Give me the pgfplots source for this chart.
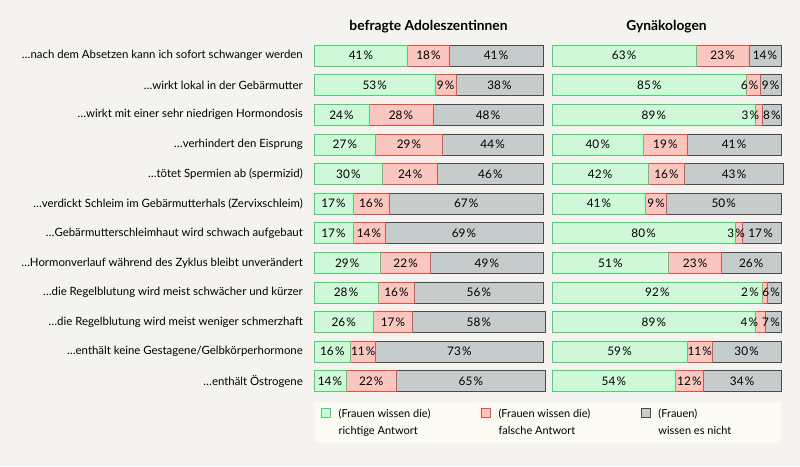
\documentclass[border=0pt]{standalone}
\usepackage{pgfplots}
\usepackage{pgfplotstable}
\pgfplotsset{compat=1.18}
\usepackage{fontspec}
\setmainfont{Lato}
\definecolor{bg}{HTML}{F4F3F0}
\definecolor{legbg}{HTML}{FCFBF3}
\definecolor{gfill}{HTML}{CFF8D9}
\definecolor{gdraw}{HTML}{45D472}
\definecolor{rfill}{HTML}{F9C6C0}
\definecolor{rdraw}{HTML}{EE4B3E}
\definecolor{kfill}{HTML}{C6CBCB}
\definecolor{kdraw}{HTML}{4A4A4A}

\pgfplotstableread{
row g r k rs ks
1 41 18 41 0 0
2 53 9 38 0 0
3 24 28 48 0 0
4 27 29 44 0 0
5 30 24 46 0 0
6 17 16 67 0 0
7 17 14 69 0 0
8 29 22 49 0 0
9 28 16 56 0 0
10 26 17 58 0 0
11 16 11 73 0 0
12 14 22 65 0 0
}\adol

\pgfplotstableread{
row g r k rs ks
1 63 23 14 0 0
2 85 6 9 -4 0
3 89 3 8 -9 0
4 40 19 41 0 0
5 42 16 43 0 0
6 41 9 50 0 0
7 80 3 17 -2.5 -1
8 51 23 26 0 0
9 92 2 6 -15 -3
10 89 4 7 -11 -2
11 59 11 30 0 0
12 54 12 34 0 0
}\gyn

\pgfplotsset{
  frame/.style={
    x=2.29pt, xmin=0, xmax=100,
    y=29.6pt, ymin=0.5, ymax=12.5, y dir=reverse,
    axis line style={draw=none}, xtick=\empty,
    tick style={draw=none},
    clip=false,
  },
  common/.style={frame,
    xbar stacked, bar width=21pt,
    title style={font=\bfseries\fontsize{13.8}{15}\selectfont, anchor=base, at={(0.5,1)}, yshift=4.5pt},
  },
  labelaxis/.style={frame, ytick=\empty},
  lbl/.style={draw=none, mark=none, forget plot,
    point meta={#1},
    nodes near coords={\pgfmathprintnumber[assume math mode=true]{\pgfplotspointmeta}\kern1.2pt\%},
    nodes near coords align={center},
    every node near coord/.style={anchor=center,
      font=\fontsize{11.8}{12}\selectfont, text=black, inner sep=0pt},
  },
}

\begin{document}
\begin{tikzpicture}
\path[use as bounding box, fill=bg] (0,0) rectangle (800pt,466pt);
\fill[legbg] (314pt,23pt) rectangle (781pt,64pt);

\begin{axis}[common,
  at={(428.5pt,247.6pt)}, anchor=center,
  title={befragte Adoleszentinnen},
  ytick={1,...,12},
  yticklabels={
    …nach dem Absetzen kann ich sofort schwanger werden,
    …wirkt lokal in der Gebärmutter,
    …wirkt mit einer sehr niedrigen Hormondosis,
    …verhindert den Eisprung,
    …tötet Spermien ab (spermizid),
    …verdickt Schleim im Gebärmutterhals (Zervixschleim),
    …Gebärmutterschleimhaut wird schwach aufgebaut,
    …Hormonverlauf während des Zyklus bleibt unverändert,
    …die Regelblutung wird meist schwächer und kürzer,
    …die Regelblutung wird meist weniger schmerzhaft,
    …enthält keine Gestagene/Gelbkörperhormone,
    …enthält Östrogene},
  yticklabel style={font=\fontsize{11.4}{12}\selectfont, inner sep=0pt, xshift=-11pt, anchor=east},
  legend columns=3,
  legend cell align=left,
  legend style={at={(0,0)}, anchor=north west, xshift=7pt, yshift=-11pt,
    draw=none, fill=none, inner sep=0pt, column sep=0pt, row sep=0pt,
    font=\fontsize{11}{17}\selectfont},
  legend image code/.code={\draw[#1, line width=0.8pt] (0pt,-3pt) rectangle (9pt,6pt); \path[draw=none] (0pt,0pt) -- (15pt,0pt);},
]
\addplot[fill=gfill, draw=gdraw, line width=0.8pt] table[x=g, y=row] {\adol};
\addplot[fill=rfill, draw=rdraw, line width=0.8pt] table[x=r, y=row] {\adol};
\addplot[fill=kfill, draw=kdraw, line width=0.8pt] table[x=k, y=row] {\adol};
\addlegendentry{\parbox[t]{140.5pt}{(Frauen wissen die)\\richtige Antwort}}
\addlegendentry{\parbox[t]{140.5pt}{(Frauen wissen die)\\falsche Antwort}}
\addlegendentry{\parbox[t]{140.5pt}{(Frauen)\\wissen es nicht}}
\end{axis}
\begin{axis}[labelaxis, at={(428.5pt,247.6pt)}, anchor=center]
\addplot[lbl=\thisrow{g}] table[x expr=\thisrow{g}/2, y=row] {\adol};
\addplot[lbl=\thisrow{r}] table[x expr=\thisrow{g}+\thisrow{r}/2+\thisrow{rs}/2.29, y=row] {\adol};
\addplot[lbl=\thisrow{k}] table[x expr=\thisrow{g}+\thisrow{r}+\thisrow{k}/2+\thisrow{ks}/2.29, y=row] {\adol};
\end{axis}

\begin{axis}[common,
  at={(666.5pt,247.6pt)}, anchor=center,
  title={Gynäkologen},
  ytick=\empty,
]
\addplot[fill=gfill, draw=gdraw, line width=0.8pt] table[x=g, y=row] {\gyn};
\addplot[fill=rfill, draw=rdraw, line width=0.8pt] table[x=r, y=row] {\gyn};
\addplot[fill=kfill, draw=kdraw, line width=0.8pt] table[x=k, y=row] {\gyn};
\end{axis}
\begin{axis}[labelaxis, at={(666.5pt,247.6pt)}, anchor=center]
\addplot[lbl=\thisrow{g}] table[x expr=\thisrow{g}/2, y=row] {\gyn};
\addplot[lbl=\thisrow{r}] table[x expr=\thisrow{g}+\thisrow{r}/2+\thisrow{rs}/2.29, y=row] {\gyn};
\addplot[lbl=\thisrow{k}] table[x expr=\thisrow{g}+\thisrow{r}+\thisrow{k}/2+\thisrow{ks}/2.29, y=row] {\gyn};
\end{axis}
\end{tikzpicture}
\end{document}
